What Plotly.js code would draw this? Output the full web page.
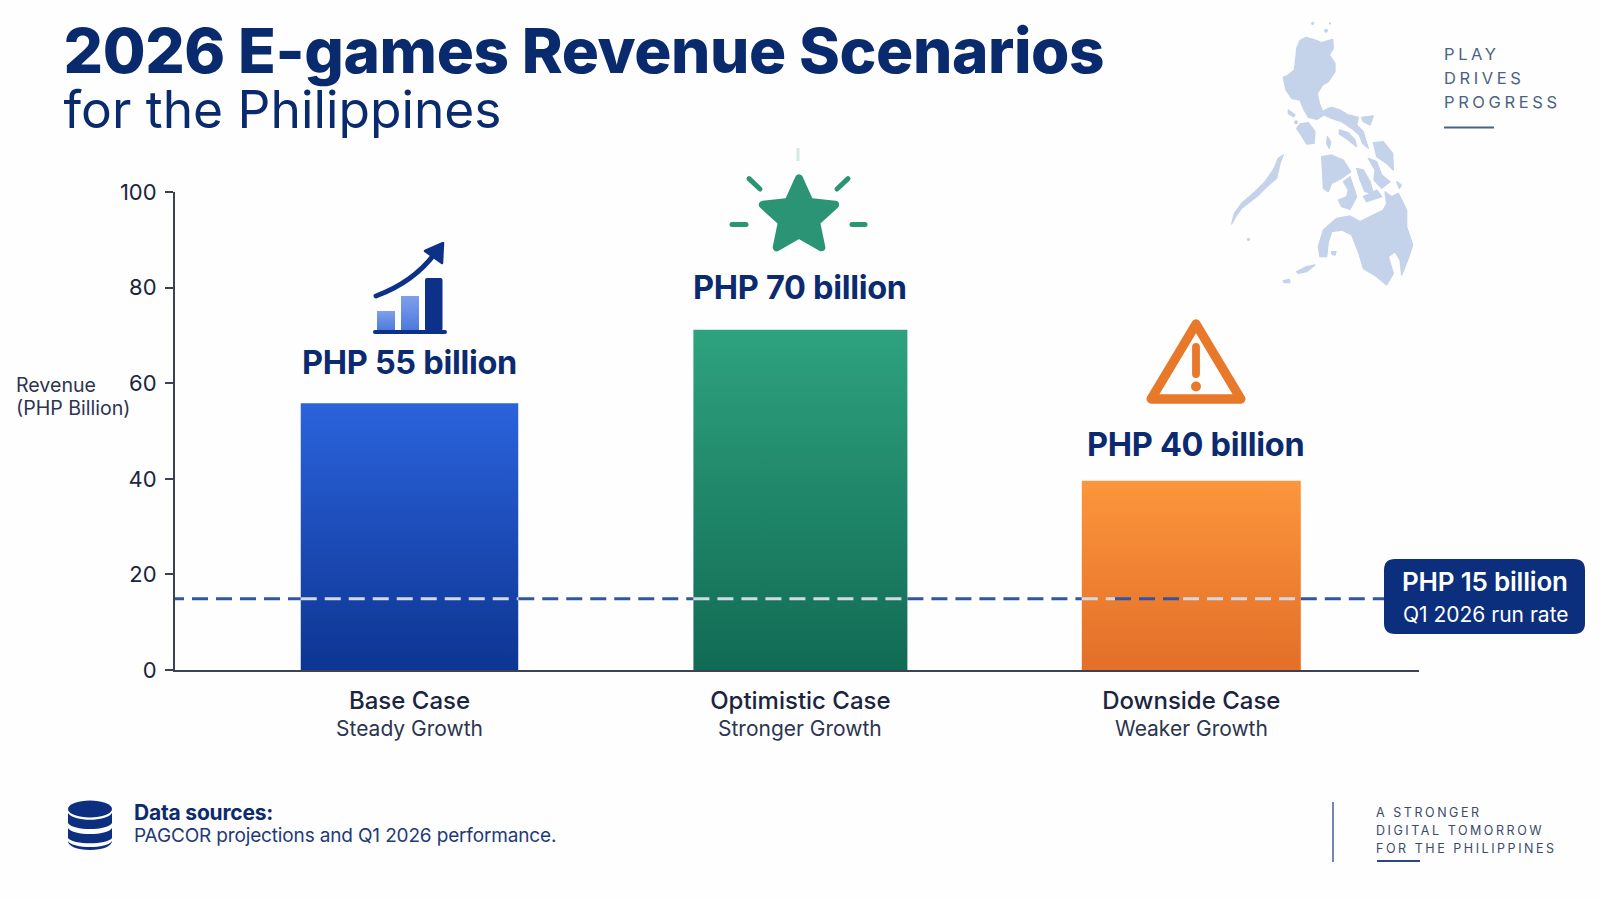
<!DOCTYPE html>
<html><head><meta charset="utf-8">
<script src="https://cdn.plot.ly/plotly-3.0.1.min.js"></script>
<style>html,body{margin:0;padding:0;background:#fff}#chart{width:1600px;height:900px}</style>
</head><body><div id="chart"></div>
<script>
// ---- data ----
const scenarioPositions = [0, 1, 2];
const scenarioNames = ['Base Case', 'Optimistic Case', 'Downside Case'];
const scenarioNotes = ['Steady Growth', 'Stronger Growth', 'Weaker Growth'];
const barHeights = [55.8, 71.2, 39.6];
const valueLabels = ['PHP 55 billion', 'PHP 70 billion', 'PHP 40 billion'];
const runRateValue = 14.9;
const yTicks = [0, 20, 40, 60, 80, 100];

const L = 175, R = 1419, T = 192, B = 670;
const px = x => (x - L) / (R - L), py = y => 1 - (y - T) / (B - T);
const navy = '#0b2a6f';
const X0 = 409.5, UNIT = 390.9;              // pixel position of category 0, pixels per category
const dx = p => (p - X0) / UNIT;
const barWidths = [217.5 / UNIT, 214 / UNIT, 219 / UNIT];

function svgUri(w, h, body, vb) {
  const s = `<svg xmlns="http://www.w3.org/2000/svg" width="${w}" height="${h}" viewBox="${vb || `0 0 ${w} ${h}`}">${body}</svg>`;
  return 'data:image/svg+xml;base64,' + btoa(s);
}
function img(x, y, w, h, body, vb) {
  return {source: svgUri(w, h, body, vb), xref: 'paper', yref: 'paper', x: px(x), y: py(y),
    sizex: w / (R - L), sizey: h / (B - T), xanchor: 'left', yanchor: 'top', sizing: 'stretch', layer: 'above'};
}
const mapBody = `<defs><filter id="b" x="-5%" y="-5%" width="110%" height="110%"><feGaussianBlur stdDeviation="1.8"/></filter></defs>
<g fill="#c4d3ea" stroke="#c4d3ea" stroke-width="4" stroke-linejoin="round" filter="url(#b)">
<path d="M300,122 L318,112 L340,118 L365,128 L398,118 L400,145 L388,165 L405,190 L405,215 L385,245 L368,255 L352,280 L358,310 L368,335 L385,325 L395,322 L420,330 L445,345 L475,352 L470,375 L490,395 L497,420 L505,445 L488,430 L478,405 L455,385 L425,365 L395,355 L372,345 L350,358 L325,352 L310,325 L300,300 L275,295 L258,270 L250,232 L265,225 L283,210 L288,170 L290,145 Z"/>
<path d="M485,352 L520,348 L510,375 L490,365 Z"/>
<path d="M300,372 L325,368 L345,395 L342,430 L320,432 L300,400 L290,385 Z"/>
<path d="M265,330 L285,345 L280,350 L265,340 Z"/>
<path d="M418,390 L445,398 L465,420 L470,440 L445,420 L418,402 Z"/>
<path d="M520,428 L550,425 L578,460 L580,510 L560,490 L530,470 Z"/>
<path d="M505,475 L530,485 L545,525 L570,545 L545,565 L522,540 L525,510 Z"/>
<path d="M365,470 L395,465 L430,480 L452,515 L425,535 L395,550 L385,575 L370,565 L368,520 Z"/>
<path d="M430,545 L450,530 L460,560 L470,590 L450,628 L425,620 L415,600 L440,590 L445,570 Z"/>
<path d="M470,505 L490,510 L510,545 L520,580 L495,575 L480,540 Z"/>
<path d="M490,590 L530,570 L545,590 L500,605 Z"/>
<path d="M250,465 L240,490 L230,535 L200,560 L170,590 L125,625 L110,645 L95,672 L103,640 L125,610 L165,575 L195,545 L220,510 L235,475 Z"/>
<path d="M555,575 L575,590 L595,580 L620,630 L620,680 L638,735 L625,775 L605,825 L600,780 L585,755 L565,770 L580,820 L560,855 L530,830 L490,805 L475,755 L455,705 L425,690 L395,695 L385,725 L380,770 L360,770 L355,740 L370,690 L410,655 L450,648 L480,665 L510,650 L550,630 L560,610 Z"/>
<path d="M290,815 L320,800 L345,795 L320,815 L295,820 Z"/>
<path d="M250,842 L268,838 L270,848 L252,848 Z"/>
<path d="M395,755 L408,755 L405,765 L396,763 Z"/>
<path d="M382,410 L392,425 L388,445 L380,430 Z"/>
<path d="M590,545 L604,555 L598,565 Z"/>
<circle cx="338" cy="70" r="3"/><circle cx="378" cy="92" r="4"/><circle cx="390" cy="70" r="1.5"/><circle cx="145" cy="718" r="3"/><circle cx="288" cy="367" r="4"/>
</g>`;
const chartIcon = `<defs><linearGradient id="a" x1="0" y1="0" x2="0" y2="1"><stop offset="0" stop-color="#7ea0ec"/><stop offset="1" stop-color="#4c78dc"/></linearGradient></defs>
<rect x="4" y="69" width="18" height="20" fill="url(#a)"/><rect x="28" y="54" width="18" height="35" fill="url(#a)"/>
<rect x="52" y="36" width="17.5" height="53" rx="2" fill="#0d3189"/><rect x="0" y="88" width="74" height="4" rx="2" fill="#0d3189"/>
<path d="M3,54 C30,44 50,28 63,10" fill="none" stroke="#0d3189" stroke-width="5" stroke-linecap="round"/><path d="M52,9 L70,1 L69,21 Z" fill="#0d3189" stroke="#0d3189" stroke-width="2.5" stroke-linejoin="round"/>`;
const starIcon = `<path d="M79,38.5 L89.6,61.9 L115.1,64.8 L96.1,82.1 L101.3,107.2 L79,94.5 L56.7,107.2 L61.9,82.1 L42.9,64.8 L68.4,61.9 Z" fill="#2b9474" stroke="#2b9474" stroke-width="8" stroke-linejoin="round"/>
<g stroke="#2b9474" stroke-width="5" stroke-linecap="round" fill="none">
<path d="M29,38.6 L40,49"/><path d="M128,38.6 L117,49"/><path d="M12,84.5 L26,84.5"/><path d="M132,84.5 L145,84.5"/></g>
<path d="M78,8 L78,21" stroke="#d5e9e2" stroke-width="3"/>`;
const warnIcon = `<path d="M49,8 L92,80 L6,80 Z" fill="none" stroke="#e8782a" stroke-width="9" stroke-linejoin="round"/>
<path d="M49,30 L49,56" stroke="#e8782a" stroke-width="7.5" stroke-linecap="round"/><circle cx="49" cy="68" r="4.8" fill="#e8782a"/>`;
const dbIcon = `<g fill="#0c2f7f"><ellipse cx="23" cy="9" rx="22" ry="8.5"/>
<path d="M1,13 C6,22 40,22 45,13 L45,23 C40,31 6,31 1,23 Z"/><path d="M1,28 C6,36 40,36 45,28 L45,38 C40,45 6,45 1,38 Z"/>
<path d="M1,41 C6,49 40,49 45,41 C45,46 36,50 23,50 C10,50 1,46 1,41 Z"/></g>`;

const barColors = ['#1d4fc4', '#1f8a6b', '#ee7f2e'];
const trace = {type: 'bar', x: scenarioPositions, y: barHeights, width: barWidths,
  marker: {color: barColors, line: {width: 0}}, hoverinfo: 'skip', cliponaxis: false};

// dashed run-rate line: blue on the white ground, light over the bars
const edgeL = i => scenarioPositions[i] - barWidths[i] / 2, edgeR = i => scenarioPositions[i] + barWidths[i] / 2;
const blueSpans = [[dx(168), edgeL(0)], [edgeR(0), edgeL(1)], [edgeR(1), edgeL(2)], [dx(1115), dx(1183)], [edgeR(2), dx(1384)]];
const lightSpans = [[edgeL(0), edgeR(0)], [edgeL(1), edgeR(1)], [edgeL(2), dx(1115)], [dx(1183), edgeR(2)]];
const spanLine = (spans, color) => ({type: 'scatter', mode: 'lines',
  x: spans.flatMap(s => [s[0], s[1], null]), y: spans.flatMap(() => [runRateValue, runRateValue, null]),
  line: {color, width: 3, dash: '16px 8px'}, hoverinfo: 'skip', cliponaxis: false, connectgaps: false});

const anns = [];
function sp(text, style) { return `<span style="${style}">${text}</span>`; }
function txt(text, x, y, size, color, opts) {
  opts = opts || {};
  const style = `letter-spacing:${opts.ls || 0}px;` + (opts.weight ? `font-weight:${opts.weight};` : '');
  anns.push({text: sp(text, style), xref: 'paper', yref: 'paper', x: px(x), y: py(y), showarrow: false,
    xanchor: opts.anchor || 'left', yanchor: 'middle', align: opts.anchor === 'center' ? 'center' : 'left',
    font: {family: 'Inter', size, color}});
}
txt('PLAY', 1441.5, 54, 16.5, '#4a6283', {ls: 3.6});
txt('DRIVES', 1441.5, 78, 16.5, '#4a6283', {ls: 3.6});
txt('PROGRESS', 1441.5, 102, 16.5, '#4a6283', {ls: 3.6});
txt('Revenue', 13.5, 385, 19.6, '#2c3550');
txt('(PHP Billion)', 13.5, 408, 19.6, '#2c3550');
const labelShift = [19, 21, 15];
const labelNudge = [0, 0, 4];
scenarioPositions.forEach((c, i) => {
  anns.push({text: sp(valueLabels[i], 'letter-spacing:-0.3px;font-weight:700;'), xref: 'x', yref: 'y', x: c, y: barHeights[i], xshift: labelNudge[i], yshift: labelShift[i], showarrow: false,
    xanchor: 'center', yanchor: 'bottom', font: {family: 'Inter', size: 32.5, color: navy}});
  anns.push({text: scenarioNotes[i], xref: 'x', yref: 'paper', x: c, y: py(728), showarrow: false,
    xanchor: 'center', yanchor: 'middle', font: {family: 'Inter', size: 21, color: '#2c3550'}});
});
txt('PHP 15 billion', 1484.5, 581, 26, '#fff', {anchor: 'center', weight: 600, ls: -0.2});
txt('Q1 2026 run rate', 1485.5, 614, 21, '#fff', {anchor: 'center'});
txt('Data sources:', 132, 812, 21, navy, {weight: 700, ls: -0.2});
txt('PAGCOR projections and Q1 2026 performance.', 132, 835, 19, '#1f3a78', {ls: -0.15});
txt('A STRONGER', 1374, 812, 12.5, '#3a4a6b', {ls: 2.55});
txt('DIGITAL TOMORROW', 1374, 830, 12.5, '#3a4a6b', {ls: 2.55});
txt('FOR THE PHILIPPINES', 1374, 848, 12.5, '#3a4a6b', {ls: 2.55});

function roundRect(x0, y0, x1, y1, r) {
  const X = v => px(v), Y = v => py(v);
  return `M${X(x0 + r)},${Y(y0)} L${X(x1 - r)},${Y(y0)} Q${X(x1)},${Y(y0)} ${X(x1)},${Y(y0 + r)} L${X(x1)},${Y(y1 - r)} Q${X(x1)},${Y(y1)} ${X(x1 - r)},${Y(y1)} L${X(x0 + r)},${Y(y1)} Q${X(x0)},${Y(y1)} ${X(x0)},${Y(y1 - r)} L${X(x0)},${Y(y0 + r)} Q${X(x0)},${Y(y0)} ${X(x0 + r)},${Y(y0)} Z`;
}
function rule(x0, y0, x1, y1, color, w) {
  return {type: 'line', xref: 'paper', yref: 'paper', x0: px(x0), y0: py(y0), x1: px(x1), y1: py(y1), line: {color, width: w}};
}
const shapes = [
  {type: 'path', xref: 'paper', yref: 'paper', path: roundRect(1384, 559, 1585, 634, 11), fillcolor: '#0b2f7d', line: {width: 0}},
  rule(1444, 127.5, 1494, 127.5, '#4a6283', 2),
  rule(1333, 802, 1333, 862, '#6f87b4', 2),
  rule(1377, 861, 1420, 861, '#2c4585', 2)
];
const images = [
  img(1200, 0, 400, 300, mapBody, '0 0 1200 900'),
  img(373, 242, 74, 92, chartIcon),
  img(720, 140, 160, 125, starIcon),
  img(1145, 315, 102, 93, warnIcon, '0 0 98 88'),
  img(67, 800, 46, 51, dbIcon)
];

const titleText = sp('2026 E-games Revenue Scenarios', 'font-size:62px;font-weight:800;letter-spacing:-0.4px;') + '<br>' +
  sp('for the Philippines', 'font-size:51.5px;font-weight:400;letter-spacing:0px;');

const layout = {
  width: 1600, height: 900, autosize: false, showlegend: false,
  paper_bgcolor: '#fefefe', plot_bgcolor: 'rgba(0,0,0,0)',
  margin: {l: L, r: 1600 - R, t: T, b: 900 - B, pad: 0},
  font: {family: 'Inter', color: '#1b2540'},
  title: {text: titleText, xref: 'container', yref: 'container', x: 63.5 / 1600, xanchor: 'left', y: 1 - 72.5 / 900, yanchor: 'middle',
    font: {family: 'Inter', size: 42.5, color: '#0a2a6e'}},
  xaxis: {type: 'linear', range: [dx(L), dx(R)], tickvals: scenarioPositions,
    ticktext: scenarioNames.map(n => sp(n, 'font-weight:500;')),
    showgrid: false, zeroline: false, showline: true, linecolor: '#3c4250', linewidth: 2, ticks: '', ticklen: 0, ticklabelstandoff: 8,
    tickfont: {family: 'Inter', size: 24, color: '#1b2540'}, fixedrange: true},
  yaxis: {range: [0, 100], tickvals: yTicks, showgrid: false, zeroline: false, showline: true, linecolor: '#3c4250', linewidth: 2,
    ticks: 'outside', ticklen: 8, tickwidth: 2, tickcolor: '#3c4250', ticklabelstandoff: 4,
    tickfont: {family: 'Inter', size: 22, color: '#1b2540'}, fixedrange: true},
  annotations: anns, shapes, images
};
const gd = document.getElementById('chart');
const grads = [['#2b63dc', '#0d3592'], ['#2ea27e', '#116b54'], ['#fc953c', '#e36f28']];
function paintBars() {
  const svg = gd.querySelector('.main-svg');
  const defs = svg.querySelector('defs');
  grads.forEach((g, i) => {
    const lg = document.createElementNS('http://www.w3.org/2000/svg', 'linearGradient');
    lg.setAttribute('id', 'barg' + i); lg.setAttribute('x1', 0); lg.setAttribute('y1', 0); lg.setAttribute('x2', 0); lg.setAttribute('y2', 1);
    g.forEach((c, k) => { const s = document.createElementNS('http://www.w3.org/2000/svg', 'stop'); s.setAttribute('offset', k); s.setAttribute('stop-color', c); lg.appendChild(s); });
    defs.appendChild(lg);
  });
  gd.querySelectorAll('.bars .point path').forEach((p, i) => { p.style.fill = `url(#barg${i})`; });
}
Plotly.newPlot(gd, [trace, spanLine(blueSpans, '#2f55a6'), spanLine(lightSpans, '#d3d9e4')], layout, {displayModeBar: false, staticPlot: true}).then(paintBars);
</script></body></html>
